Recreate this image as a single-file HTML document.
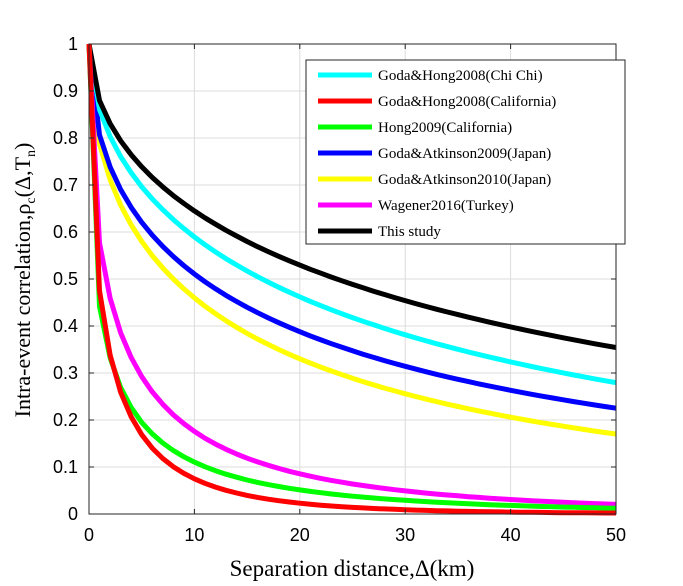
<!DOCTYPE html>
<html><head><meta charset="utf-8"><style>
body{margin:0;background:#fff;width:683px;height:581px;overflow:hidden}
</style></head><body>
<svg id="s" width="683" height="581" xmlns="http://www.w3.org/2000/svg">
<rect x="89" y="44" width="527" height="470" fill="#fff" stroke="none"/>
<g id="grid" stroke="#dcdcdc" stroke-width="1"></g>
<g id="curves" fill="none" stroke-width="5" stroke-linejoin="round"></g>
<rect x="89" y="44" width="527" height="470" fill="none" stroke="#262626" stroke-width="1"/>
<g id="ticks" font-family="Liberation Sans, sans-serif" font-size="18" fill="#000"></g>
<text x="352" y="576" text-anchor="middle" font-family="Liberation Serif, serif" font-size="23">Separation distance,Δ(km)</text>
<text transform="translate(30,280) rotate(-90)" text-anchor="middle" font-family="Liberation Serif, serif" font-size="22">Intra-event correlation,ρ<tspan font-size="14" dy="5">c</tspan><tspan dy="-5">(Δ,T</tspan><tspan font-size="14" dy="5">n</tspan><tspan dy="-5">)</tspan></text>
<g id="legend">
<rect x="306" y="60" width="319" height="184" fill="#fff" stroke="#262626" stroke-width="1"/>
</g>
</svg>
<script>
var X=function(d){return 89+d*527/50},Y=function(v){return 514-v*470};
var ns="http://www.w3.org/2000/svg";
function el(p,t,a,txt){var e=document.createElementNS(ns,t);for(var k in a)e.setAttribute(k,a[k]);if(txt)e.textContent=txt;document.getElementById(p).appendChild(e);return e;}
for(var i=1;i<5;i++)el("grid","line",{x1:X(i*10),x2:X(i*10),y1:44,y2:514});
for(var i=1;i<10;i++)el("grid","line",{x1:89,x2:616,y1:Y(i/10),y2:Y(i/10)});
for(var i=0;i<=5;i++){el("ticks","text",{x:X(i*10),y:541,"text-anchor":"middle"},""+i*10);
 el("ticks","line",{x1:X(i*10),x2:X(i*10),y1:514,y2:509,stroke:"#262626"});el("ticks","line",{x1:X(i*10),x2:X(i*10),y1:44,y2:49,stroke:"#262626"});}
for(var i=0;i<=10;i++){var l=i==0?"0":i==10?"1":"0."+i;el("ticks","text",{x:78,y:Y(i/10)+6,"text-anchor":"end"},l);
 el("ticks","line",{x1:89,x2:94,y1:Y(i/10),y2:Y(i/10),stroke:"#262626"});el("ticks","line",{x1:611,x2:616,y1:Y(i/10),y2:Y(i/10),stroke:"#262626"});}
var S=[["#00ffff",0.150,0.547,"Goda&Hong2008(Chi Chi)"],["#ff0000",0.744,0.542,"Goda&Hong2008(California)"],["#00ff00",0.817,0.431,"Hong2009(California)"],["#0000ff",0.215,0.495,"Goda&Atkinson2009(Japan)"],["#ffff00",0.239,0.512,"Goda&Atkinson2010(Japan)"],["#ff00ff",0.55,0.50,"Wagener2016(Turkey)"],["#000000",0.128,0.535,"This study"]];
var order=[4,3,0,6,5,2,1];
order.forEach(function(j){var s=S[j],d="M"+X(0)+","+Y(1);for(var x=1;x<=50;x++)d+=" L"+X(x).toFixed(1)+","+Y(Math.exp(-s[1]*Math.pow(x,s[2]))).toFixed(1);el("curves","path",{d:d,stroke:s[0]});});
S.forEach(function(s,k){var y=75+k*26;el("legend","line",{x1:318,x2:372,y1:y,y2:y,stroke:s[0],"stroke-width":5});
 el("legend","text",{x:378,y:y+5,"font-family":"Liberation Serif, serif","font-size":15},s[3]);});
</script>
</body></html>
